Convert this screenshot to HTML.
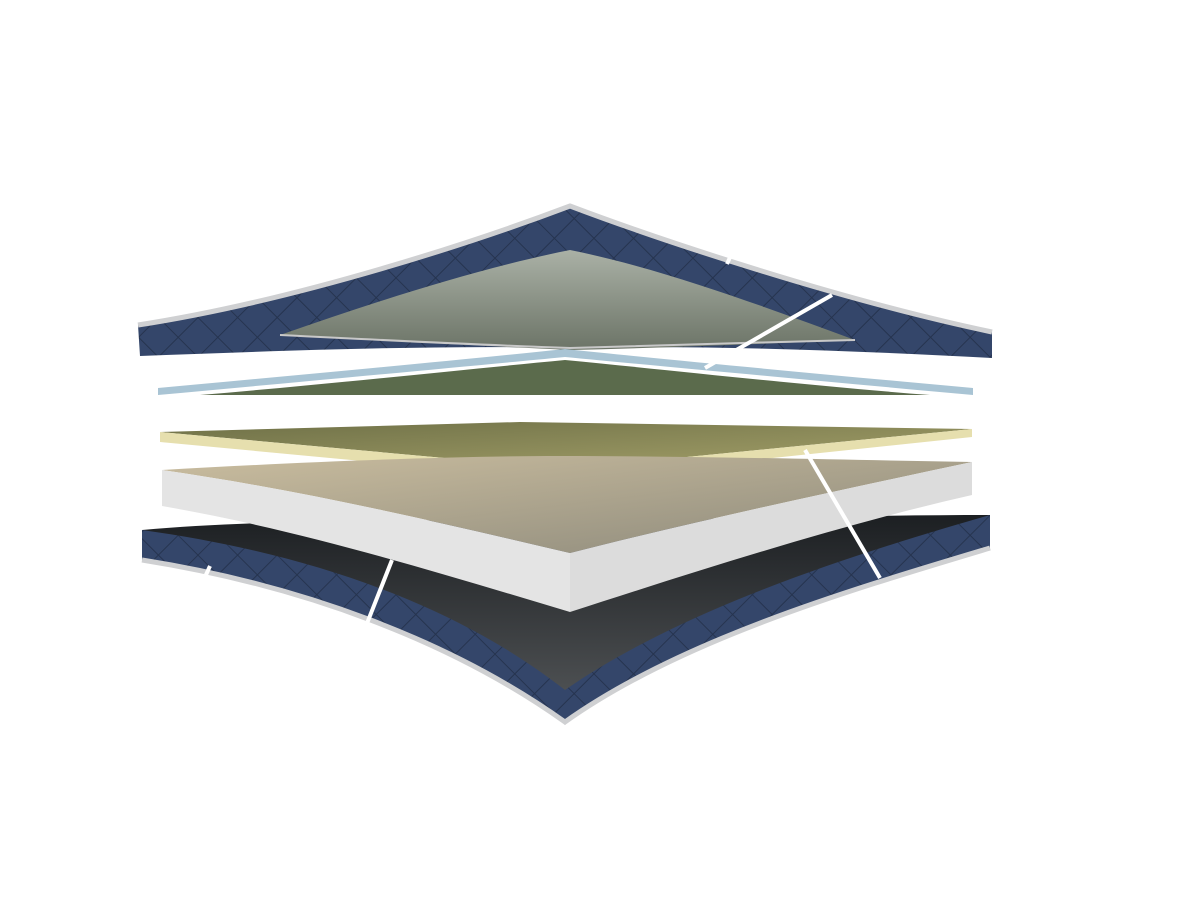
<!DOCTYPE html>
<html><head><meta charset="utf-8"><style>
html,body{margin:0;padding:0;background:#fff;}
svg{display:block;}
</style></head><body>
<svg width="1200" height="900" viewBox="0 0 1200 900" xmlns="http://www.w3.org/2000/svg">
<defs>
<pattern id="quilt" width="28" height="28" patternUnits="userSpaceOnUse" patternTransform="rotate(45)">
<rect width="28" height="28" fill="#34466a"/>
<path d="M0 0H28M0 0V28" stroke="#26344f" stroke-width="2"/>
</pattern>
<linearGradient id="innerTop" x1="0" y1="0" x2="0" y2="1">
<stop offset="0" stop-color="#aab1a6"/><stop offset="1" stop-color="#6c7467"/>
</linearGradient>
<linearGradient id="yTop" x1="0" y1="0" x2="1" y2="1">
<stop offset="0" stop-color="#6e7047"/><stop offset="1" stop-color="#a6a26a"/>
</linearGradient>
<linearGradient id="fTop" x1="0" y1="0" x2="1" y2="1">
<stop offset="0" stop-color="#cabd9f"/><stop offset="1" stop-color="#8b887a"/>
</linearGradient>
<linearGradient id="darkIn" x1="0" y1="0" x2="0" y2="1">
<stop offset="0" stop-color="#1c1f22"/><stop offset="1" stop-color="#55585a"/>
</linearGradient>
</defs>

<path d="M138 325 C300 300 480 240 570 206 C660 240 840 300 992 332 L992 358 C840 350 700 345 570 348 C440 345 300 350 140 356 Z" fill="url(#quilt)"/>
<path d="M280 335 C380 300 480 268 570 250 C660 268 760 305 855 340 C760 344 660 348 570 350 C480 346 380 340 280 335 Z" fill="url(#innerTop)"/>
<path d="M138 325 C300 300 480 240 570 206 C660 240 840 300 992 332" fill="none" stroke="#cfd0d2" stroke-width="5"/>
<path d="M280 335 C380 340 480 345 570 348 C660 346 760 342 855 340" fill="none" stroke="#c8c8c8" stroke-width="2"/>

<path d="M200 395 C320 385 460 370 565 360 C670 370 800 385 930 395 Z" fill="#5b6b4c"/>
<path d="M158 388 C300 375 460 360 565 349 C670 360 830 375 973 388 L973 395 C830 382 670 367 565 357 C460 367 300 382 158 395 Z" fill="#a9c4d4"/>

<polygon points="160,432 520,422 972,429 565,469" fill="url(#yTop)"/>
<polygon points="160,432 565,469 972,429 972,437 565,480 160,442" fill="#e6dfae"/>

<path d="M142 530 C250 520 400 520 565 520 C700 520 850 515 990 515 L990 548 C850 590 680 640 565 722 C450 640 300 585 142 560 Z" fill="url(#darkIn)"/>
<path d="M142 530 C300 552 450 600 565 690 C680 610 850 555 990 515 L990 548 C850 590 680 640 565 722 C450 640 300 585 142 560 Z" fill="url(#quilt)"/>
<path d="M142 560 C300 585 450 640 565 722 C680 640 850 590 990 548" fill="none" stroke="#cfd0d2" stroke-width="5"/>

<path d="M162 470 C300 462 450 456 560 456 C700 456 850 460 972 462 C840 490 700 520 570 553 C430 520 300 490 162 470 Z" fill="url(#fTop)"/>
<path d="M162 470 C300 490 430 520 570 553 L570 612 C430 570 300 530 162 506 Z" fill="#e4e4e4"/>
<path d="M570 553 C700 520 840 490 972 462 L972 495 C840 525 700 570 570 612 Z" fill="#dcdcdc"/>

<g stroke="#fff" stroke-width="4">
<line x1="705" y1="368" x2="832" y2="295"/>
<line x1="727" y1="264" x2="731" y2="255"/>
<line x1="805" y1="450" x2="880" y2="578"/>
<line x1="392" y1="560" x2="362" y2="636"/>
<line x1="205" y1="577" x2="210" y2="566"/>
</g>
</svg>
</body></html>
